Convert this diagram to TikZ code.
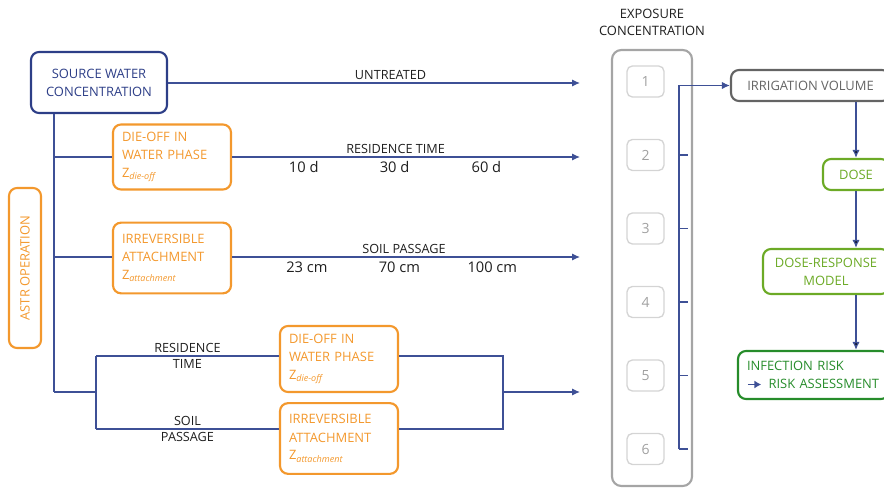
\documentclass[tikz,border=0pt]{standalone}
\usepackage{fontspec}
\setmainfont{Open Sans}
\usetikzlibrary{arrows.meta,positioning}
\definecolor{navy}{RGB}{45,62,135}
\definecolor{wire}{RGB}{62,80,150}
\definecolor{astr}{RGB}{243,152,45}
\definecolor{colgray}{RGB}{165,165,165}
\definecolor{slotgray}{RGB}{212,212,212}
\definecolor{numgray}{RGB}{160,160,160}
\definecolor{irrgray}{RGB}{100,100,100}
\definecolor{dosegreen}{RGB}{108,170,38}
\definecolor{riskgreen}{RGB}{38,140,42}
\definecolor{ink}{RGB}{30,30,30}
\tikzset{>={Latex[length=6pt,width=5.5pt]}}
\tikzset{
  box/.style={draw,line width=1.6pt,rounded corners=6pt,inner sep=0pt,
    font=\fontsize{9.7}{13.5}\selectfont},
  srcbox/.style={box,draw=navy,text=navy,align=center,
    minimum width=102pt,minimum height=45.75pt},
  procbox/.style={box,draw=astr,text=astr,align=left,text width=75pt,
    inner xsep=6.75pt,minimum height=#1},
  procbox/.default=50pt,
  astrbox/.style={box,draw=astr,text=astr,rotate=90,
    minimum width=120pt,minimum height=24pt},
  colbox/.style={draw=colgray,line width=1.6pt,rounded corners=7pt,
    minimum width=60pt,minimum height=327pt},
  slot/.style={draw=slotgray,line width=1pt,rounded corners=4pt,text=numgray,
    font=\fontsize{10.5}{12}\selectfont,minimum width=27.75pt,minimum height=23.25pt},
  irrbox/.style={box,draw=irrgray,text=irrgray,
    minimum width=119.25pt,minimum height=23.25pt},
  dosebox/.style={box,draw=dosegreen,text=dosegreen,align=center,
    minimum width=#1,minimum height=23.25pt},
  riskbox/.style={box,draw=riskgreen,text=riskgreen,align=left,text width=99.75pt,
    inner xsep=6.75pt,minimum height=36pt},
  wire/.style={draw=wire,line width=1pt},
  lbl/.style={text=ink,inner sep=2pt,font=\fontsize{9.5}{11}\selectfont},
  num/.style={text=ink,inner sep=3pt,font=\fontsize{11}{13}\selectfont},
  title/.style={text=ink,align=center,inner sep=0pt,font=\fontsize{9.7}{13}\selectfont}
}
\newcommand{\zsub}[1]{Z\textsubscript{\itshape #1}}
\newcommand{\riskarrow}{{\color{wire}\tikz[baseline=-0.6ex]\draw[line width=1.2pt,
  -{Latex[length=5pt,width=6pt]}] (0,0) -- (10pt,0);}}
\begin{document}
\begin{tikzpicture}[x=0.75pt,y=-0.75pt]
\useasboundingbox (0,0) rectangle (884,488);
% left part
\node[srcbox] (src) at (99,82.5) {SOURCE WATER\\CONCENTRATION};
\node[astrbox] (astr) at (25,268) {ASTR OPERATION};
\node[procbox=48.75pt] (die1) at (172,157) {DIE-OFF IN\\WATER PHASE\\\zsub{die-off}};
\node[procbox=53pt] (att1) at (172,258) {IRREVERSIBLE\\ATTACHMENT\\\zsub{attachment}};
\node[procbox=49.5pt] (die2) at (339,359) {DIE-OFF IN\\WATER PHASE\\\zsub{die-off}};
\node[procbox=53pt] (att2) at (339,438.5) {IRREVERSIBLE\\ATTACHMENT\\\zsub{attachment}};

\coordinate (trunk) at (54,392);
\coordinate (split) at (96,392);
\coordinate (s1) at (96,356);
\coordinate (s2) at (96,429);
\coordinate (m1) at (503,356);
\coordinate (m2) at (503,429);
\coordinate (merge) at (503,392);
\foreach \n/\y in {1/83,2/157,3/257,4/392}
  \coordinate (in\n) at (580,\y);

\draw[wire,->] (src.east |- in1) -- node[lbl,pos=.54,above] {UNTREATED} (in1);
\draw[wire] (src.south -| trunk) -- (trunk);
\draw[wire] (die1.west -| trunk) -- (die1.west);
\draw[wire] (att1.west |- in3) -- (att1.west |- in3 -| trunk);
\draw[wire,->] (die1.east |- in2) -- node[lbl,pos=.47,above] {RESIDENCE TIME}
  node[num,pos=.206,below] {10 d} node[num,pos=.467,below] {30 d}
  node[num,pos=.731,below] {60 d} (in2);
\draw[wire,->] (att1.east |- in3) -- node[lbl,pos=.494,above] {SOIL PASSAGE}
  node[num,pos=.215,below] {23 cm} node[num,pos=.481,below] {70 cm}
  node[num,pos=.748,below] {100 cm} (in3);

\draw[wire] (trunk) -- (split);
\draw[wire] (s1) -- (s2);
\draw[wire] (s1) -- node[lbl,above] {RESIDENCE} node[lbl,below] {TIME} (s1 -| die2.west);
\draw[wire] (s2) -- node[lbl,above] {SOIL} node[lbl,below] {PASSAGE} (s2 -| att2.west);
\draw[wire] (s1 -| die2.east) -- (m1) -- (m2) -- (s2 -| att2.east);
\draw[wire,->] (merge) -- (in4);

% exposure column
\node[colbox] (col) at (652,268) {};
\node[title,above=9.5pt of col] (coltitle) {EXPOSURE\\CONCENTRATION};
\foreach \i in {1,...,6}
  \node[slot] (e\i) at (645.5,{81.5+73.5*(\i-1)}) {\i};

\coordinate (bus) at (679,0);
\node[irrbox] (irr) at (810.5,85.5) {IRRIGATION VOLUME};
\draw[wire] (bus |- e6) -- (bus |- irr.west);
\draw[wire,->] (bus |- irr.west) -- (irr.west);
\foreach \i in {2,...,6}
  \draw[wire] (bus |- e\i) -- ++(9,0);

% risk chain
\node[dosebox=49.5pt] (dose) at (856,174.5) {DOSE};
\node[dosebox=94.5pt,minimum height=33.75pt] (dresp) at (826,271.5) {DOSE-RESPONSE\\MODEL};
\node[riskbox] (risk) at (813.5,375) {INFECTION RISK\\\mbox{\riskarrow\hspace{5pt}RISK ASSESSMENT}};
\draw[wire,->] (dose.north |- irr.south) -- (dose.north);
\draw[wire,->] (dose.south) -- (dose.south |- dresp.north);
\draw[wire,->] (dose.south |- dresp.south) -- (dose.south |- risk.north);
\end{tikzpicture}
\end{document}
